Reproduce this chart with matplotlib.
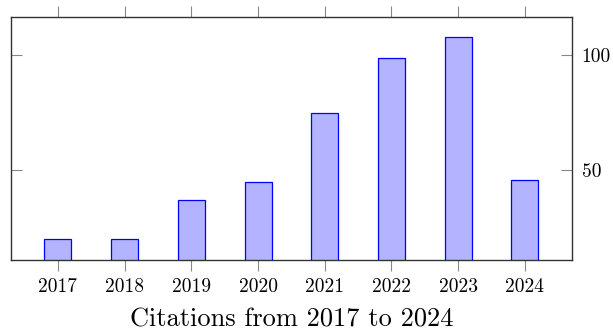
import matplotlib
matplotlib.use("Agg")
import matplotlib.pyplot as plt

# dados
anos = [2017, 2018, 2019, 2020, 2021, 2022, 2023, 2024]
citacoes = [20, 20, 37, 45, 75, 99, 108, 46]
yticks = [50, 100]
titulo = "Citations from 2017 to 2024"

plt.rcParams["font.family"] = ["cmr10", "DejaVu Serif"]
plt.rcParams["axes.formatter.use_mathtext"] = True


def monta_grafico():
    fig = plt.figure(figsize=(6.13, 3.30), dpi=100)
    ax = fig.add_axes([10.9 / 613, 1 - 259.7 / 330, 561 / 613, 243 / 330])

    ax.bar(anos, citacoes, width=0.405, color="#b3b3ff",
           edgecolor="#0000ff", linewidth=0.9, zorder=2)

    # limites como no pgfplots (enlarge limits 10%)
    faixa = max(citacoes) - min(citacoes)
    ax.set_ylim(min(citacoes) - 0.1 * faixa, max(citacoes) + 0.1 * faixa)
    ax.set_xlim(anos[0] - 0.705, anos[-1] + 0.705)

    ax.set_xticks(anos, [str(a) for a in anos])
    ax.set_yticks(yticks, [str(v) for v in yticks])

    ax.tick_params(axis="x", direction="out", top=True, bottom=True,
                   labeltop=False, labelbottom=True, length=8,
                   width=0.8, color="#888888", labelsize=14, pad=5)
    ax.tick_params(axis="y", direction="in", left=True, right=True,
                   labelleft=False, labelright=True, length=8,
                   width=0.8, color="#888888", labelsize=14, pad=7)

    for sp in ax.spines.values():
        sp.set_color("#333333")
        sp.set_linewidth(1.0)

    fig.text(291.4 / 613, 3.5 / 330, titulo, ha="center", va="baseline",
             fontsize=19)

    fig.savefig("out.png", dpi=100)


if __name__ == "__main__":
    monta_grafico()
